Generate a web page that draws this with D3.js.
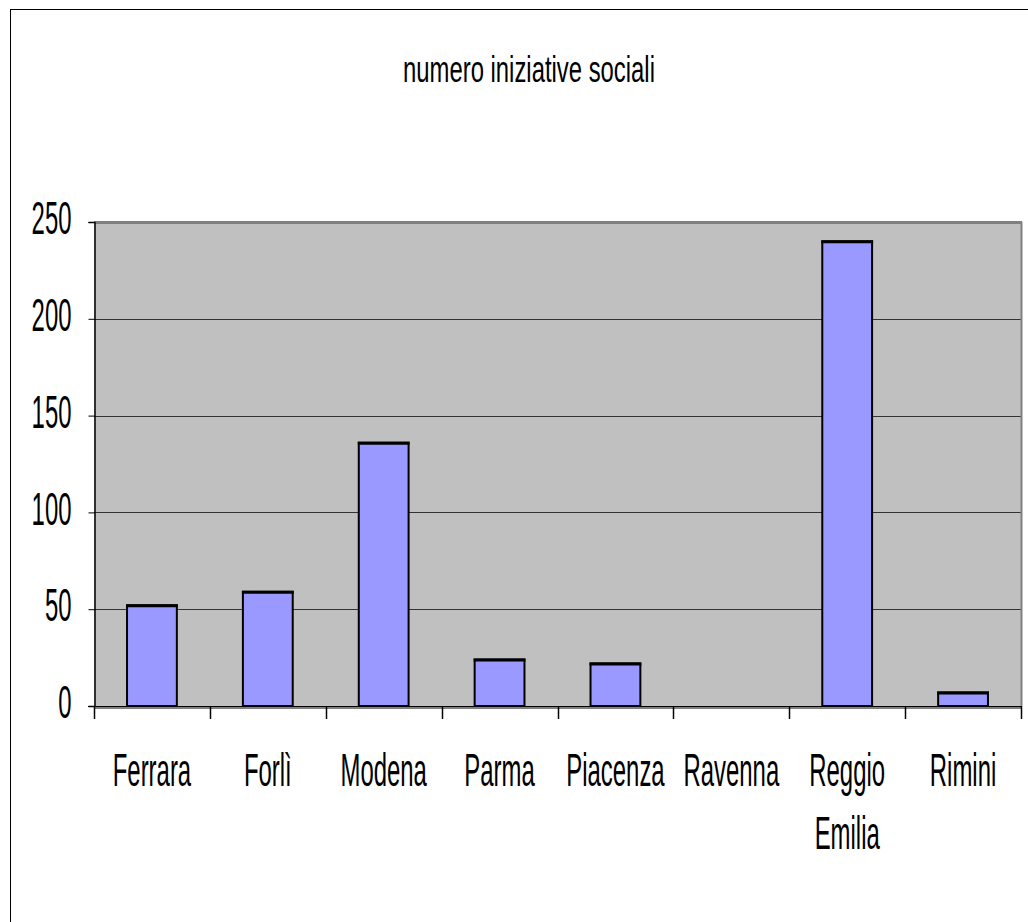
<!DOCTYPE html>
<html>
<head>
<meta charset="utf-8">
<script src="https://cdn.jsdelivr.net/npm/d3@7"></script>
<style>
html,body{margin:0;padding:0;background:#fff;}
svg{display:block;}
text{font-family:"Liberation Sans",Arial,sans-serif;fill:#000;}
</style>
</head>
<body>
<svg id="chart" width="1028" height="922"></svg>
<script>
const categories = ["Ferrara","Forlì","Modena","Parma","Piacenza","Ravenna","Reggio Emilia","Rimini"];
const categoryLines = [["Ferrara"],["Forlì"],["Modena"],["Parma"],["Piacenza"],["Ravenna"],["Reggio","Emilia"],["Rimini"]];
const values = [52, 59, 136, 24, 22, 0, 240, 7];
const yTicks = [0, 50, 100, 150, 200, 250];
const title = "numero iniziative sociali";

const svg = d3.select("#chart");
const plot = {left:94, top:222, right:1021, bottom:706};

// outer frame
svg.append("rect").attr("x",10.5).attr("y",9.5).attr("width",1040).attr("height",940)
  .attr("fill","#fff").attr("stroke","#000").attr("stroke-width",1);

const x = d3.scaleBand().domain(categories).range([plot.left, plot.right]).paddingInner(0).paddingOuter(0);
const y = d3.scaleLinear().domain([0,250]).range([plot.bottom, plot.top]);

// plot background
svg.append("rect").attr("x",plot.left).attr("y",plot.top)
  .attr("width",plot.right-plot.left).attr("height",plot.bottom-plot.top).attr("fill","#C0C0C0");

// gridlines
svg.append("g").selectAll("line").data(yTicks.filter(d=>d>0 && d<250)).join("line")
  .attr("x1",plot.left).attr("x2",plot.right)
  .attr("y1",d=>Math.round(y(d))+0.5).attr("y2",d=>Math.round(y(d))+0.5)
  .attr("stroke","#333").attr("stroke-width",1);

// plot border top/right gray
svg.append("line").attr("x1",plot.left).attr("x2",plot.right+1).attr("y1",plot.top+0.5).attr("y2",plot.top+0.5)
  .attr("stroke","#808080").attr("stroke-width",3);
svg.append("line").attr("x1",plot.right+0.5).attr("x2",plot.right+0.5).attr("y1",plot.top).attr("y2",plot.bottom)
  .attr("stroke","#808080").attr("stroke-width",2);

// bars
const bw = x.bandwidth()*0.43;
const bars = svg.append("g").selectAll("g").data(categories.map((c,i)=>({c,v:values[i]})).filter(d=>d.v>0)).join("g");
bars.append("rect")
  .attr("x",d=>x(d.c)+(x.bandwidth()-bw)/2)
  .attr("y",d=>y(d.v))
  .attr("width",bw)
  .attr("height",d=>plot.bottom-y(d.v))
  .attr("fill","#9999FF").attr("stroke","#000").attr("stroke-width",2);
bars.append("line")
  .attr("x1",d=>x(d.c)+(x.bandwidth()-bw)/2-1)
  .attr("x2",d=>x(d.c)+(x.bandwidth()+bw)/2+1)
  .attr("y1",d=>y(d.v)+0.5).attr("y2",d=>y(d.v)+0.5)
  .attr("stroke","#000").attr("stroke-width",3);

// y axis
const yAxis = d3.axisLeft(y).tickValues(yTicks).tickSize(6).tickPadding(12).tickFormat(d3.format("d"));
const gy = svg.append("g").attr("transform",`translate(${plot.left+0.5},0)`).call(yAxis);
gy.select(".domain").attr("stroke","#000").attr("stroke-width",1.5);
gy.selectAll(".tick line").attr("stroke","#000");
gy.selectAll(".tick text").attr("font-size",46).attr("text-anchor","end").attr("dy","0.34em")
  .each(function(d){
    const t=d3.select(this); const xx=+t.attr("x");
    t.attr("x",null).attr("transform",`translate(${xx-5},-4) scale(0.52,1)`);
  });

// x axis line
svg.append("line").attr("x1",plot.left-6).attr("x2",plot.right+1).attr("y1",plot.bottom+0.5).attr("y2",plot.bottom+0.5)
  .attr("stroke","#000").attr("stroke-width",1);
svg.append("line").attr("x1",plot.left).attr("x2",plot.right+1).attr("y1",plot.bottom+2).attr("y2",plot.bottom+2)
  .attr("stroke","#808080").attr("stroke-width",2);

// category boundary ticks
const bounds = categories.map(c=>x(c)).concat([plot.right]);
svg.append("g").selectAll("line").data(bounds).join("line")
  .attr("x1",d=>Math.round(d)+0.5).attr("x2",d=>Math.round(d)+0.5)
  .attr("y1",plot.bottom).attr("y2",plot.bottom+13)
  .attr("stroke","#000").attr("stroke-width",1.5);

// category labels
const lbl = svg.append("g").selectAll("text").data(categories.map((c,i)=>({c,lines:categoryLines[i]}))).join("text")
  .attr("font-size",46)
  .attr("text-anchor","middle")
  .attr("transform",d=>`translate(${x(d.c)+x.bandwidth()/2},786) scale(0.52,1)`);
lbl.selectAll("tspan").data(d=>d.lines).join("tspan")
  .attr("x",0).attr("y",(d,i)=>i*63).text(d=>d);

// title
svg.append("text").attr("font-size",37).attr("text-anchor","middle")
  .attr("transform","translate(529,82) scale(0.645,1)").text(title);
</script>
</body>
</html>
